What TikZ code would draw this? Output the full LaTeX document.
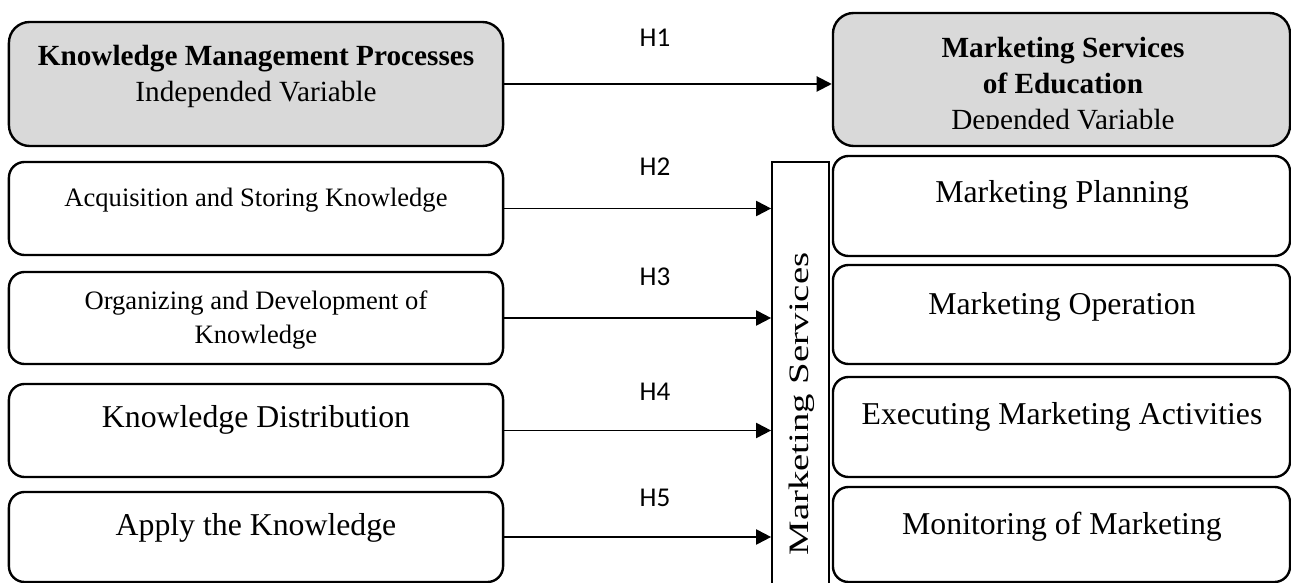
\documentclass[tikz,border=0pt]{standalone}
\usepackage{fontspec}
\setmainfont{Liberation Serif}
\newfontfamily\hfont{Carlito}
\usepackage{graphicx}
\usepackage{xcolor}
\usepackage{tikz}
\usetikzlibrary{arrows.meta}
\definecolor{boxgray}{HTML}{D9D9D9}

\begin{document}
\begin{tikzpicture}[x=0.025cm,y=-0.025cm,>={Triangle[length=10.7pt,width=10.7pt]},
    kbox/.style={draw,line width=1.7pt,rounded corners=0.39cm,minimum width=12.35cm,inner sep=0pt},
    mbox/.style={draw,line width=1.7pt,rounded corners=0.39cm,minimum width=11.425cm,inner sep=0pt},
    txt/.style={align=center,inner sep=0pt,font=\fontsize{22.6}{27}\selectfont},
    smalltxt/.style={align=center,inner sep=0pt,font=\fontsize{18.9}{24.2}\selectfont},
    headtxt/.style={align=center,inner sep=0pt,font=\fontsize{20.8}{25.6}\selectfont},
    hlab/.style={inner sep=0pt,font=\hfont\fontsize{19.3}{23}\selectfont},
    link/.style={->,line width=1.4pt}]
  \useasboundingbox (0,0) rectangle (1291,583);
  \clip (0,0) rectangle (1291,583);
  % independent variable column
  \node[kbox,fill=boxgray,rounded corners=0.52cm,minimum height=3.1cm] (kmp) at (256,84) {};
  \node[kbox,minimum height=2.325cm] (acq) at (256,208.5) {};
  \node[kbox,minimum height=2.3cm] (org) at (256,318) {};
  \node[kbox,minimum height=2.325cm] (dist) at (256,430.5) {};
  \node[kbox,minimum height=2.25cm] (apply) at (256,537) {};
  % dependent variable column
  \node[mbox,fill=boxgray,rounded corners=0.52cm,minimum height=3.325cm] (mse) at (1061.5,79.5) {};
  \node[mbox,minimum height=2.5cm] (plan) at (1061.5,206) {};
  \node[mbox,minimum height=2.475cm] (oper) at (1061.5,314.5) {};
  \node[mbox,minimum height=2.5cm] (exec) at (1061.5,427) {};
  \node[mbox,minimum height=2.375cm] (monit) at (1061.5,534.5) {};
  % bar
  \node[draw,line width=1.2pt,minimum width=1.425cm,minimum height=10.7cm,inner sep=0pt] (bar) at (800.5,376) {};
  \node[rotate=90,inner sep=0pt,font=\fontsize{20}{24}\selectfont] (barT) at (802,404)
    {\scalebox{1.38}[1]{Marketing Services}};
  % texts
  \node[headtxt] (kmpT) at (256,76) {\textbf{Knowledge Management Processes}\\Independed Variable};
  \node[smalltxt] (acqT) at (256,200) {Acquisition and Storing Knowledge};
  \node[smalltxt] (orgT) at (256,320) {Organizing and Development of\\Knowledge};
  \node[txt] (distT) at (256,420) {Knowledge Distribution};
  \node[txt] (applyT) at (256,528) {Apply the Knowledge};
  \begin{scope}
    \clip (833,0) rectangle (1291,129);
    \node[headtxt] (mseT) at (1063,86) {\textbf{Marketing Services}\\\textbf{of Education}\\Depended Variable};
  \end{scope}
  \node[txt] (planT) at (1062,195) {Marketing Planning};
  \node[txt] (operT) at (1062,307) {Marketing Operation};
  \node[txt] (execT) at (1062,417) {Executing Marketing Activities};
  \node[txt] (monitT) at (1062,527) {Monitoring of Marketing};
  % hypotheses
  \draw[link] (kmp.east) -- (kmp.east -| mse.west);
  \foreach \src in {acq,org,dist,apply}
    \draw[link] (\src.east) -- (\src.east -| bar.west);
  \foreach \n/\yy in {1/38,2/167,3/277,4/392,5/498}
    \node[hlab] (h\n) at (655,\yy) {H\n};
\end{tikzpicture}
\end{document}
